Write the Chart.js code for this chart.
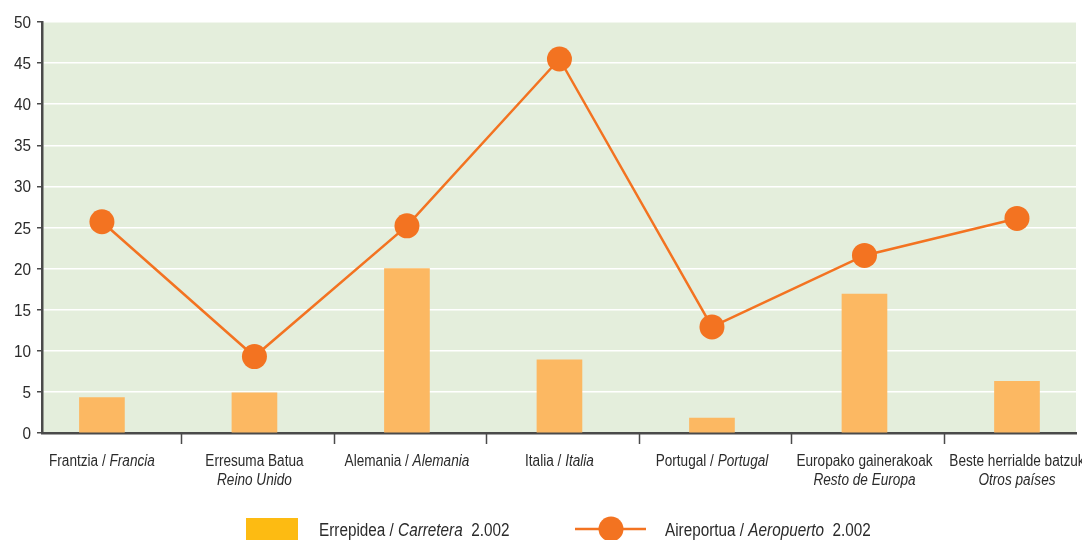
<!DOCTYPE html>
<html>
<head>
<meta charset="utf-8">
<script src="https://cdn.jsdelivr.net/npm/chart.js@4/dist/chart.umd.min.js"></script>
<style>
html,body{margin:0;padding:0;background:#fff;overflow:hidden;}
#wrap{width:1082px;height:540px;}
</style>
</head>
<body>
<div id="wrap"><canvas id="c" width="1082" height="540"></canvas></div>
<script>
// ---- data ----
const categoriesEu = ["Frantzia", "Erresuma Batua", "Alemania", "Italia", "Portugal", "Europako gainerakoak", "Beste herrialde batzuk"];
const categoriesEs = ["Francia", "Reino Unido", "Alemania", "Italia", "Portugal", "Resto de Europa", "Otros países"];
const stackedLabel = [false, true, false, false, false, true, true];
const carretera = [4.3, 4.9, 20.0, 8.9, 1.8, 16.9, 6.3];
const aeropuerto = [25.7, 9.3, 25.2, 45.5, 12.9, 21.6, 26.1];
const yTicks = [0, 5, 10, 15, 20, 25, 30, 35, 40, 45, 50];
const legendBar = ["Errepidea / ", "Carretera", "  2.002"];
const legendLine = ["Aireportua / ", "Aeropuerto", "  2.002"];

const FONT = '"Liberation Sans", Arial, sans-serif';
const TEXT = '#2b2b2b';
const AXIS = '#4a4a4a';
const BAR = '#fcb862';
const LINE = '#f37321';
const SWATCH = '#fdbb12';
const BG = '#e4eedc';

const bgPlugin = {
  id: 'bg',
  beforeDraw(chart) {
    const {ctx, chartArea: a} = chart;
    ctx.save();
    ctx.fillStyle = BG;
    ctx.fillRect(a.left, a.top, a.right - a.left, a.bottom - a.top);
    ctx.restore();
  }
};

// parts: [text, italic]; draws horizontally condensed text
function drawMixed(ctx, parts, x, y, align, size, sx) {
  const fonts = parts.map(p => (p[1] ? 'italic ' : '') + size + 'px ' + FONT);
  const widths = parts.map((p, i) => { ctx.font = fonts[i]; return ctx.measureText(p[0]).width; });
  const total = widths.reduce((s, w) => s + w, 0) * sx;
  let start = x;
  if (align === 'center') start = x - total / 2;
  else if (align === 'right') start = x - total;
  ctx.save();
  ctx.translate(start, y);
  ctx.scale(sx, 1);
  ctx.textAlign = 'left';
  let cx = 0;
  parts.forEach((p, i) => {
    ctx.font = fonts[i];
    ctx.fillText(p[0], cx, 0);
    cx += widths[i];
  });
  ctx.restore();
}

const labelPlugin = {
  id: 'labels',
  afterDraw(chart) {
    const {ctx, chartArea: a} = chart;
    const xs = chart.scales.x;
    const ys = chart.scales.y;
    ctx.save();
    // category separator ticks
    ctx.strokeStyle = AXIS;
    ctx.lineWidth = 1.5;
    for (let i = 0; i < categoriesEu.length - 1; i++) {
      const px = Math.round(xs.getPixelForValue(i + 0.52)) + 0.5;
      ctx.beginPath();
      ctx.moveTo(px, a.bottom);
      ctx.lineTo(px, a.bottom + 11);
      ctx.stroke();
    }
    ctx.fillStyle = TEXT;
    ctx.textBaseline = 'alphabetic';
    // y tick labels
    yTicks.forEach(v => {
      drawMixed(ctx, [[String(v), false]], a.left - 11, ys.getPixelForValue(v) + 6, 'right', 17, 0.9);
    });
    // category labels
    categoriesEu.forEach((eu, i) => {
      const px = xs.getPixelForValue(i);
      if (stackedLabel[i]) {
        drawMixed(ctx, [[eu, false]], px, a.bottom + 33, 'center', 16, 0.85);
        drawMixed(ctx, [[categoriesEs[i], true]], px, a.bottom + 52, 'center', 16, 0.85);
      } else {
        drawMixed(ctx, [[eu + ' / ', false], [categoriesEs[i], true]], px, a.bottom + 33, 'center', 16, 0.85);
      }
    });
    // legend
    ctx.fillStyle = SWATCH;
    ctx.fillRect(246, 518, 52, 24);
    ctx.fillStyle = TEXT;
    drawMixed(ctx, [[legendBar[0], false], [legendBar[1], true], [legendBar[2], false]], 319, 536, 'left', 18, 0.85);
    ctx.strokeStyle = LINE;
    ctx.lineWidth = 2.5;
    ctx.beginPath();
    ctx.moveTo(575, 529);
    ctx.lineTo(646, 529);
    ctx.stroke();
    ctx.fillStyle = LINE;
    ctx.beginPath();
    ctx.arc(611, 529, 12.5, 0, Math.PI * 2);
    ctx.fill();
    ctx.fillStyle = TEXT;
    drawMixed(ctx, [[legendLine[0], false], [legendLine[1], true], [legendLine[2], false]], 665, 536, 'left', 18, 0.85);
    ctx.restore();
  }
};

new Chart(document.getElementById('c'), {
  type: 'bar',
  data: {
    datasets: [
      {
        type: 'line',
        label: 'Aeropuerto 2.002',
        data: aeropuerto.map((v, i) => ({x: i, y: v})),
        borderColor: LINE,
        backgroundColor: LINE,
        borderWidth: 2.5,
        pointRadius: 12.5,
        pointHoverRadius: 12.5,
        pointBorderWidth: 0,
        pointBackgroundColor: LINE,
        tension: 0,
        order: 0
      },
      {
        type: 'bar',
        label: 'Carretera 2.002',
        data: carretera.map((v, i) => ({x: i, y: v})),
        backgroundColor: BAR,
        borderWidth: 0,
        barThickness: 45,
        order: 1
      }
    ]
  },
  options: {
    responsive: false,
    animation: false,
    layout: {autoPadding: false, padding: {top: 22, right: 6, left: 0, bottom: 0}},
    plugins: {legend: {display: false}, tooltip: {enabled: false}},
    scales: {
      x: {
        type: 'linear',
        min: -0.393,
        max: 6.387,
        offset: false,
        grid: {display: false},
        border: {display: true, color: AXIS, width: 2.5},
        ticks: {display: false},
        afterFit(s) { s.height = 107; }
      },
      y: {
        min: 0,
        max: 50,
        afterBuildTicks(s) { s.ticks = yTicks.map(v => ({value: v})); },
        grid: {color: '#ffffff', lineWidth: 1.5, tickColor: AXIS, tickLength: 5, drawTicks: true},
        border: {display: true, color: AXIS, width: 2.5},
        ticks: {display: false},
        afterFit(s) { s.width = 42; }
      }
    }
  },
  plugins: [bgPlugin, labelPlugin]
});
</script>
</body>
</html>
